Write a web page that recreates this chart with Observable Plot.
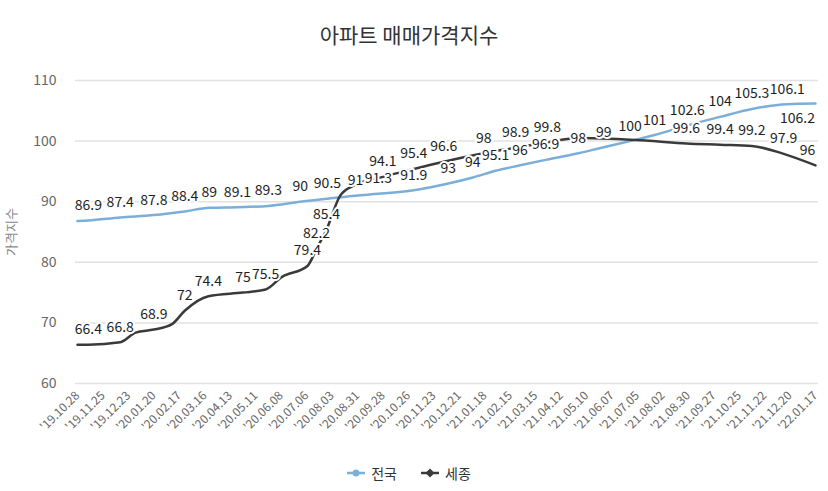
<!DOCTYPE html>
<html><head><meta charset="utf-8">
<script src="https://cdn.jsdelivr.net/npm/d3@7"></script>
<script src="https://cdn.jsdelivr.net/npm/@observablehq/plot@0.6"></script>
<style>
body{margin:0;background:#fff;font-family:"Noto Sans CJK KR","Noto Sans",sans-serif;width:828px;}
#title{box-sizing:border-box;height:55px;padding-top:20px;line-height:28px;text-align:center;font-size:21px;color:#333;padding-right:10px;}
#chart svg{display:block;}
#legend{height:36px;display:flex;justify-content:center;align-items:center;font-size:14px;color:#333;padding-right:10px;box-sizing:border-box;}
#legend .item{display:flex;align-items:center;margin:0 12px;}
#legend svg{margin-right:6px;}
</style></head><body>
<div id="title">아파트 매매가격지수</div>
<div id="chart"></div>
<div id="legend"></div>
<script>
// x-axis tick labels
const xTickLabels = ["'19.10.28","'19.11.25","'19.12.23","'20.01.20","'20.02.17","'20.03.16","'20.04.13","'20.05.11","'20.06.08","'20.07.06","'20.08.03","'20.08.31","'20.09.28","'20.10.26","'20.11.23","'20.12.21","'21.01.18","'21.02.15","'21.03.15","'21.04.12","'21.05.10","'21.06.07","'21.07.05","'21.08.02","'21.08.30","'21.09.27","'21.10.25","'21.11.22","'21.12.20","'22.01.17"];
const yTicks = [60, 70, 80, 90, 100, 110];

// 전국
const jeonDates = ["2019-10-28","2019-11-09","2019-12-14","2020-01-20","2020-02-23","2020-03-21","2020-04-21","2020-05-25","2020-06-29","2020-07-29","2020-08-29","2020-09-23","2020-11-01","2020-12-09","2021-01-05","2021-01-30","2021-02-26","2021-03-26","2021-05-01","2021-05-29","2021-06-27","2021-07-24","2021-08-29","2021-10-04","2021-11-08","2021-12-17","2022-01-17"];
const jeonValues = [86.8, 86.9, 87.4, 87.8, 88.4, 89, 89.1, 89.3, 90, 90.5, 91, 91.3, 91.9, 93, 94, 95.1, 96, 96.9, 98, 99, 100, 101, 102.6, 104, 105.3, 106.1, 106.2];
const jeonLabels = ["", "86.9", "87.4", "87.8", "88.4", "89", "89.1", "89.3", "90", "90.5", "91", "91.3", "91.9", "93", "94", "95.1", "96", "96.9", "98", "99", "100", "101", "102.6", "104", "105.3", "106.1", "106.2"];

// 세종
const sejongDates = ["2019-10-28","2019-11-09","2019-12-14","2019-12-31","2020-01-20","2020-02-09","2020-02-23","2020-03-20","2020-04-27","2020-05-22","2020-06-09","2020-07-07","2020-07-17","2020-07-28","2020-08-12","2020-08-26","2020-09-28","2020-11-01","2020-12-04","2021-01-17","2021-02-21","2021-03-28","2021-05-01","2021-06-05","2021-07-14","2021-08-28","2021-10-04","2021-11-08","2021-12-13","2022-01-17"];
const sejongValues = [66.4, 66.4, 66.8, 68.4, 68.9, 69.8, 72, 74.4, 75, 75.5, 77.6, 79.4, 82.2, 85.4, 91.0, 92.6, 94.1, 95.4, 96.6, 98, 98.9, 99.8, 100.5, 100.4, 100.1, 99.6, 99.4, 99.2, 97.9, 96];
const sejongLabels = ["", "66.4", "66.8", "", "68.9", "", "72", "74.4", "75", "75.5", "", "79.4", "82.2", "85.4", "", "", "94.1", "95.4", "96.6", "98", "98.9", "99.8", "", "", "", "99.6", "99.4", "99.2", "97.9", "96"];

const seriesColors = {"전국": "#7bafd9", "세종": "#3a3a3a"};

const parse = d3.utcParse("%Y-%m-%d");
const tickParse = d3.utcParse("'%y.%m.%d");
const tickFmt = d3.utcFormat("'%y.%m.%d");
const xTicks = xTickLabels.map(tickParse);

const jeon = jeonDates.map((d, i) => ({date: parse(d), value: jeonValues[i], label: jeonLabels[i], last: i === jeonDates.length - 1}));
const sejong = sejongDates.map((d, i) => ({date: parse(d), value: sejongValues[i], label: sejongLabels[i], last: i === sejongDates.length - 1}));

const font = '"Noto Sans CJK KR","Noto Sans",sans-serif';
const labelOpts = {x: "date", y: "value", text: "label", fontSize: 14, fill: "#1e1e1e", stroke: "white", strokeWidth: 4, fontFamily: font};

const chart = Plot.plot({
  width: 828, height: 400,
  marginLeft: 75, marginRight: 10, marginTop: 25, marginBottom: 72,
  x: {type: "utc", domain: [xTicks[0], xTicks[xTicks.length - 1]], insetLeft: 2, insetRight: 3},
  y: {domain: [60, 110]},
  style: {fontFamily: font, background: "white"},
  marks: [
    Plot.gridY(yTicks, {stroke: "#e2e2e2", strokeOpacity: 1, strokeWidth: 1.5}),
    Plot.axisY(yTicks, {tickSize: 0, tickPadding: 19, fontSize: 14, fill: "#666", label: null}),
    Plot.axisY(yTicks, {tickSize: 0, tick: null, text: null, label: "가격지수", labelAnchor: "center", labelOffset: 69, labelArrow: "none", fontSize: 13, fill: "#888"}),
    Plot.axisX(xTicks, {tickSize: 0, tickRotate: -45, tickPadding: 10, tickFormat: tickFmt, fontSize: 12, fill: "#666", label: null}),
    Plot.lineY(jeon, {x: "date", y: "value", stroke: seriesColors["전국"], strokeWidth: 2.5, curve: "monotone-x"}),
    Plot.lineY(sejong, {x: "date", y: "value", stroke: seriesColors["세종"], strokeWidth: 2.5, curve: "monotone-x"}),
    Plot.text(jeon.filter(d => d.label && !d.last), {...labelOpts, dy: -15}),
    Plot.text(sejong.filter(d => d.label && !d.last), {...labelOpts, dy: -15}),
    Plot.text(jeon.filter(d => d.last), {...labelOpts, dx: -18, dy: 15}),
    Plot.text(sejong.filter(d => d.last), {...labelOpts, dx: -8, dy: -15})
  ]
});
document.getElementById("chart").appendChild(chart);

// legend
const legend = document.getElementById("legend");
[["전국", "circle"], ["세종", "diamond"]].forEach(([name, shape]) => {
  const c = seriesColors[name];
  const item = document.createElement("div");
  item.className = "item";
  const marker = shape === "circle"
    ? `<circle cx="9" cy="7" r="3.5" fill="${c}"/>`
    : `<path d="M9 2.5 L13.5 7 L9 11.5 L4.5 7 Z" fill="${c}"/>`;
  item.innerHTML = `<svg width="18" height="14"><line x1="0" y1="7" x2="18" y2="7" stroke="${c}" stroke-width="2.5"/>${marker}</svg><span>${name}</span>`;
  legend.appendChild(item);
});
</script>
</body></html>
